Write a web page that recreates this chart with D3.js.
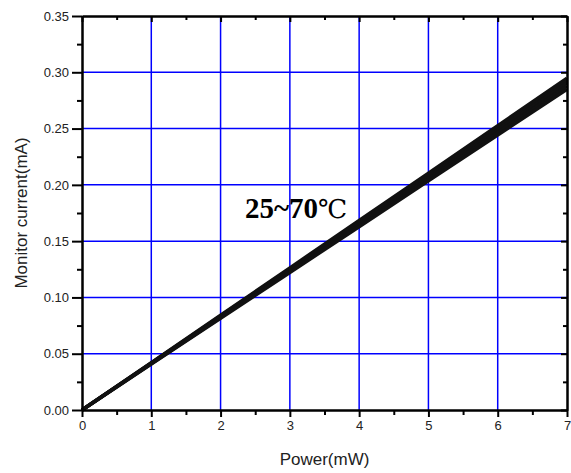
<!DOCTYPE html>
<html>
<head>
<meta charset="utf-8">
<script src="https://cdn.jsdelivr.net/npm/d3@7"></script>
<style>
  body { margin: 0; background: #fff; }
</style>
</head>
<body>
<script>
var power = [0, 1, 2, 3, 4, 5, 6, 7];
// monitor current (mA) for the spread of temperatures 25~70 C
var cur25 = [0, 0.0421, 0.0842, 0.1263, 0.1684, 0.2105, 0.2526, 0.2947];
var cur35 = [0, 0.0418, 0.0836, 0.1254, 0.1672, 0.2090, 0.2508, 0.2926];
var cur45 = [0, 0.0415, 0.0830, 0.1245, 0.1660, 0.2075, 0.2490, 0.2905];
var cur55 = [0, 0.0411, 0.0822, 0.1233, 0.1644, 0.2055, 0.2466, 0.2877];
var cur70 = [0, 0.0407, 0.0814, 0.1221, 0.1628, 0.2035, 0.2442, 0.2849];
var xTicks = [0, 1, 2, 3, 4, 5, 6, 7];
var yTicks = [0, 0.05, 0.10, 0.15, 0.20, 0.25, 0.30, 0.35];
var xMinor = [0.5, 1.5, 2.5, 3.5, 4.5, 5.5, 6.5];
var yMinor = [0.025, 0.075, 0.125, 0.175, 0.225, 0.275, 0.325];

var W = 571, H = 473;
var m = {left: 82, top: 16, right: 4, bottom: 63};
var w = W - m.left - m.right, h = H - m.top - m.bottom;
var sans = '"Liberation Sans", Arial, sans-serif';

var svg = d3.select('body').append('svg').attr('width', W).attr('height', H);
var g = svg.append('g').attr('transform', 'translate(' + m.left + ',' + m.top + ')');

var x = d3.scaleLinear().domain([0, 7]).range([0, w]);
var y = d3.scaleLinear().domain([0, 0.35]).range([h, 0]);

// grid
g.selectAll('line.gx')
  .data(xTicks.slice(1, -1))
  .enter().append('line')
    .attr('class', 'gx')
    .attr('x1', function(d) { return x(d); })
    .attr('x2', function(d) { return x(d); })
    .attr('y1', 0).attr('y2', h)
    .attr('stroke', '#0000ff').attr('stroke-width', 1.5);
g.selectAll('line.gy')
  .data(yTicks.slice(1, -1))
  .enter().append('line')
    .attr('class', 'gy')
    .attr('y1', function(d) { return y(d); })
    .attr('y2', function(d) { return y(d); })
    .attr('x1', 0).attr('x2', w)
    .attr('stroke', '#0000ff').attr('stroke-width', 1.5);

// data lines
var line = d3.line()
  .x(function(d, i) { return x(power[i]); })
  .y(function(d) { return y(d); });
g.selectAll('path.series')
  .data([cur25, cur35, cur45, cur55, cur70])
  .enter().append('path')
    .attr('class', 'series')
    .attr('d', line)
    .attr('fill', 'none')
    .attr('stroke', '#111')
    .attr('stroke-width', 3.4);

// axes
function styleAxis(sel) {
  sel.select('.domain').attr('stroke', '#000').attr('stroke-width', 2);
  sel.selectAll('.tick line').attr('stroke', '#000').attr('stroke-width', 2);
  sel.selectAll('.tick text').attr('fill', '#222').attr('font-size', 13)
    .attr('font-family', sans);
}

g.append('g').attr('transform', 'translate(0,' + h + ')')
  .call(d3.axisBottom(x).tickValues(xTicks).tickFormat(d3.format('d')).tickSizeInner(7).tickSizeOuter(0).tickPadding(4))
  .call(styleAxis);
g.append('g').attr('transform', 'translate(0,' + h + ')')
  .call(d3.axisBottom(x).tickValues(xMinor).tickFormat('').tickSizeInner(5).tickSizeOuter(0))
  .call(styleAxis);

g.append('g')
  .call(d3.axisLeft(y).tickValues(yTicks).tickFormat(d3.format('.2f')).tickSizeInner(10).tickSizeOuter(0).tickPadding(3))
  .call(styleAxis);
g.append('g')
  .call(d3.axisLeft(y).tickValues(yMinor).tickFormat('').tickSizeInner(5).tickSizeOuter(0))
  .call(styleAxis);

g.append('g')
  .call(d3.axisTop(x).tickValues(xTicks).tickFormat('').tickSizeInner(-6).tickSizeOuter(0))
  .call(styleAxis);
g.append('g')
  .call(d3.axisTop(x).tickValues(xMinor).tickFormat('').tickSizeInner(-4).tickSizeOuter(0))
  .call(styleAxis);
g.append('g').attr('transform', 'translate(' + w + ',0)')
  .call(d3.axisRight(y).tickValues(yTicks).tickFormat('').tickSizeInner(-6).tickSizeOuter(0))
  .call(styleAxis);
g.append('g').attr('transform', 'translate(' + w + ',0)')
  .call(d3.axisRight(y).tickValues(yMinor).tickFormat('').tickSizeInner(-4).tickSizeOuter(0))
  .call(styleAxis);

// axis titles
svg.append('text')
  .attr('x', m.left + w / 2)
  .attr('y', 465)
  .attr('text-anchor', 'middle')
  .attr('font-family', sans)
  .attr('font-size', 17)
  .attr('fill', '#222')
  .text('Power(mW)');
svg.append('text')
  .attr('transform', 'translate(27,' + (m.top + h / 2) + ') rotate(-90)')
  .attr('text-anchor', 'middle')
  .attr('font-family', sans)
  .attr('font-size', 17)
  .attr('fill', '#222')
  .text('Monitor current(mA)');

// annotation
var ann = svg.append('text')
  .attr('x', 245)
  .attr('y', 218)
  .attr('font-family', '"Liberation Serif", "Times New Roman", serif')
  .attr('font-size', 29)
  .attr('fill', '#000');
ann.append('tspan').attr('font-weight', 'bold').text('25~70');
ann.append('tspan').attr('font-weight', 'normal').attr('font-family', '"DejaVu Serif", serif').attr('font-size', 26).text('℃');
</script>
</body>
</html>
